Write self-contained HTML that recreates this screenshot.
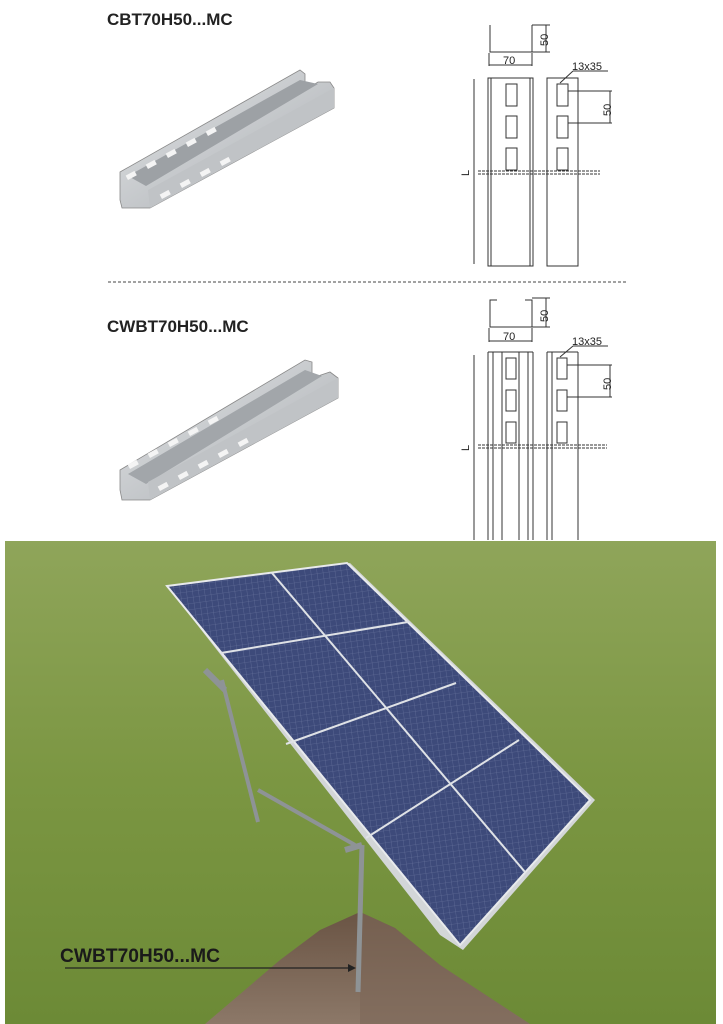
<!DOCTYPE html>
<html><head><style>
html,body{margin:0;padding:0;background:#fff;width:723px;height:1024px;overflow:hidden}
svg{display:block}
</style></head><body>
<svg width="723" height="1024" viewBox="0 0 723 1024" xmlns="http://www.w3.org/2000/svg">
<defs>
<linearGradient id="grass" x1="0" y1="0" x2="0" y2="1">
<stop offset="0" stop-color="#8fa55a"/><stop offset="0.5" stop-color="#7b9642"/><stop offset="1" stop-color="#6c8a36"/>
</linearGradient>
<linearGradient id="ch" x1="0" y1="0" x2="1" y2="1">
<stop offset="0" stop-color="#e4e6e8"/><stop offset="1" stop-color="#a8acb0"/>
</linearGradient>
<pattern id="cells" width="6" height="6" patternUnits="userSpaceOnUse" patternTransform="rotate(-8)">
<rect width="6" height="6" fill="#3d4a7a"/><path d="M0 0H6M0 0V6" stroke="#6c77a0" stroke-width="0.6"/>
</pattern>
<linearGradient id="dirt" x1="0" y1="0" x2="0" y2="1">
<stop offset="0" stop-color="#6a5444"/><stop offset="1" stop-color="#8c7868"/>
</linearGradient>
</defs>
<g font-family="Liberation Sans, sans-serif" fill="#222">
<text x="107" y="25" font-size="17" font-weight="bold">CBT70H50...MC</text>
<text x="107" y="332" font-size="17" font-weight="bold">CWBT70H50...MC</text>
</g>
<line x1="108" y1="282" x2="628" y2="282" stroke="#444" stroke-dasharray="3,2" stroke-width="1"/>
<g>
<polygon points="120,172 300,70 305,74 305,90 318,82 330,82 334,88 334,108 150,208 122,208 120,200" fill="url(#ch)" stroke="#888" stroke-width="0.8"/>
<polygon points="128,176 300,80 318,84 146,186" fill="#9da1a5"/>
<polygon points="148,190 334,88 334,108 150,208" fill="#c0c3c6"/>
<g fill="#f4f4f4"><rect x="126" y="173" width="10" height="5" transform="rotate(-28 131 175)"/><rect x="146" y="162" width="10" height="5" transform="rotate(-28 151 164)"/><rect x="166" y="151" width="10" height="5" transform="rotate(-28 171 153)"/><rect x="186" y="140" width="10" height="5" transform="rotate(-28 191 142)"/><rect x="206" y="129" width="10" height="5" transform="rotate(-28 211 131)"/>
<rect x="160" y="192" width="10" height="5" transform="rotate(-28 165 194)"/><rect x="180" y="181" width="10" height="5" transform="rotate(-28 185 183)"/><rect x="200" y="170" width="10" height="5" transform="rotate(-28 205 172)"/><rect x="220" y="159" width="10" height="5" transform="rotate(-28 225 161)"/></g>
</g>
<g>
<polygon points="120,470 305,360 312,362 312,378 330,372 338,378 338,398 150,500 122,500 120,490" fill="url(#ch)" stroke="#888" stroke-width="0.8"/>
<polygon points="128,474 305,370 322,376 146,484" fill="#a2a6aa"/>
<polygon points="148,482 338,378 338,398 150,500" fill="#c0c3c6"/>
<g fill="#f4f4f4"><rect x="128" y="462" width="10" height="5" transform="rotate(-28 133 464)"/><rect x="148" y="451" width="10" height="5" transform="rotate(-28 153 453)"/><rect x="168" y="440" width="10" height="5" transform="rotate(-28 173 442)"/><rect x="188" y="429" width="10" height="5" transform="rotate(-28 193 431)"/><rect x="208" y="418" width="10" height="5" transform="rotate(-28 213 420)"/>
<rect x="158" y="484" width="10" height="5" transform="rotate(-28 163 486)"/><rect x="178" y="473" width="10" height="5" transform="rotate(-28 183 475)"/><rect x="198" y="462" width="10" height="5" transform="rotate(-28 203 464)"/><rect x="218" y="451" width="10" height="5" transform="rotate(-28 223 453)"/><rect x="238" y="440" width="10" height="5" transform="rotate(-28 243 442)"/></g>
</g>
<g stroke="#333" stroke-width="1" fill="none">
<path d="M490 25V52H532V25"/>
<line x1="532" y1="25" x2="550" y2="25"/><line x1="532" y1="52" x2="550" y2="52"/><line x1="546" y1="25" x2="546" y2="52"/>
<line x1="489" y1="53" x2="489" y2="66"/><line x1="532" y1="53" x2="532" y2="66"/><line x1="489" y1="65" x2="532" y2="65"/>
<rect x="488" y="78" width="45" height="188"/><line x1="491" y1="78" x2="491" y2="266"/><line x1="530" y1="78" x2="530" y2="266"/>
<rect x="506" y="84" width="11" height="22"/><rect x="506" y="116" width="11" height="22"/><rect x="506" y="148" width="11" height="22"/>
<rect x="547" y="78" width="31" height="188"/>
<rect x="557" y="84" width="11" height="22"/><rect x="557" y="116" width="11" height="22"/><rect x="557" y="148" width="11" height="22"/>
<line x1="478" y1="171" x2="600" y2="171" stroke-dasharray="3,1"/><line x1="478" y1="174" x2="600" y2="174" stroke-dasharray="3,1"/>
<line x1="474" y1="79" x2="474" y2="264"/>
<line x1="568" y1="91" x2="612" y2="91"/><line x1="568" y1="123" x2="612" y2="123"/><line x1="610" y1="91" x2="610" y2="123"/>
<line x1="560" y1="83" x2="573" y2="71"/><line x1="573" y1="71" x2="608" y2="71"/>
</g>
<g stroke="#333" stroke-width="1" fill="none">
<path d="M497 300H490V327H532V300H525"/>
<line x1="532" y1="298" x2="550" y2="298"/><line x1="532" y1="327" x2="550" y2="327"/><line x1="546" y1="298" x2="546" y2="327"/>
<line x1="489" y1="328" x2="489" y2="342"/><line x1="532" y1="328" x2="532" y2="342"/><line x1="489" y1="341" x2="532" y2="341"/>
<line x1="488" y1="352" x2="533" y2="352"/><line x1="547" y1="352" x2="578" y2="352"/>
<line x1="488" y1="352" x2="488" y2="540"/><line x1="493" y1="352" x2="493" y2="540"/><line x1="502" y1="352" x2="502" y2="540"/><line x1="519" y1="352" x2="519" y2="540"/><line x1="528" y1="352" x2="528" y2="540"/><line x1="533" y1="352" x2="533" y2="540"/>
<line x1="547" y1="352" x2="547" y2="540"/><line x1="552" y1="352" x2="552" y2="540"/><line x1="578" y1="352" x2="578" y2="540"/>
<rect x="506" y="358" width="10" height="21"/><rect x="506" y="390" width="10" height="21"/><rect x="506" y="422" width="10" height="21"/>
<rect x="557" y="358" width="10" height="21"/><rect x="557" y="390" width="10" height="21"/><rect x="557" y="422" width="10" height="21"/>
<line x1="478" y1="445" x2="607" y2="445" stroke-dasharray="3,1"/><line x1="478" y1="448" x2="607" y2="448" stroke-dasharray="3,1"/>
<line x1="474" y1="355" x2="474" y2="540"/>
<line x1="567" y1="365" x2="612" y2="365"/><line x1="567" y1="397" x2="612" y2="397"/><line x1="610" y1="365" x2="610" y2="397"/>
<line x1="560" y1="357" x2="573" y2="346"/><line x1="573" y1="346" x2="608" y2="346"/>
</g>
<g font-family="Liberation Sans, sans-serif" font-size="11" fill="#222">
<text x="503" y="64">70</text><text x="503" y="340">70</text>
<text x="572" y="70">13x35</text><text x="572" y="345">13x35</text>
<text transform="translate(548,46) rotate(-90)">50</text><text transform="translate(548,322) rotate(-90)">50</text>
<text transform="translate(611,116) rotate(-90)">50</text><text transform="translate(611,390) rotate(-90)">50</text>
<text transform="translate(469,176) rotate(-90)">L</text><text transform="translate(469,451) rotate(-90)">L</text>
</g>
<rect x="5" y="541" width="711" height="483" fill="url(#grass)"/>
<polygon points="205,1024 280,960 320,930 360,912 395,928 440,965 530,1024" fill="url(#dirt)"/>
<polygon points="360,912 395,928 440,965 530,1024 360,1024" fill="#7d6858" opacity="0.6"/>
<g stroke="#8e9396" fill="none">
<line x1="222" y1="680" x2="258" y2="822" stroke-width="4"/>
<line x1="258" y1="790" x2="355" y2="845" stroke-width="4"/>
<line x1="362" y1="845" x2="358" y2="992" stroke-width="5"/>
<line x1="205" y1="670" x2="225" y2="690" stroke-width="6"/>
<line x1="345" y1="850" x2="362" y2="845" stroke-width="6"/>
</g>
<polygon points="170,590 350,563 595,800 463,950 440,935" fill="#d3d6d8"/>
<polygon points="167,586 347,563 590,800 460,945" fill="url(#cells)" stroke="#e8eaec" stroke-width="2"/>
<g stroke="#dfe2e6" stroke-width="2">
<line x1="272" y1="573" x2="525" y2="872"/>
<line x1="221" y1="653" x2="408" y2="622"/>
<line x1="286" y1="744" x2="456" y2="683"/>
<line x1="366" y1="838" x2="519" y2="740"/>
</g>
<text x="60" y="962" font-family="Liberation Sans, sans-serif" font-size="19" font-weight="bold" fill="#1a1a1a" textLength="160" lengthAdjust="spacingAndGlyphs">CWBT70H50...MC</text>
<line x1="65" y1="968" x2="348" y2="968" stroke="#222" stroke-width="1.2"/>
<polygon points="348,964 356,968 348,972" fill="#222"/>
</svg>
</body></html>
